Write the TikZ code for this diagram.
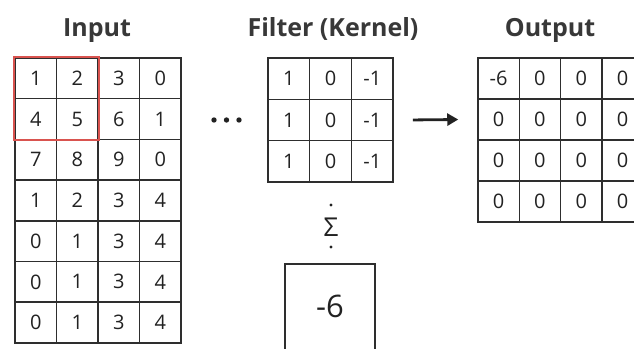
\documentclass[tikz,border=0pt]{standalone}
\usepackage{fontspec}
\setmainfont{Open Sans}
\usetikzlibrary{arrows.meta}
\definecolor{ink}{HTML}{222222}
\definecolor{gridline}{HTML}{2E2E2E}
\definecolor{winred}{HTML}{D9534F}
\tikzset{
  title/.style={font=\bfseries\fontsize{25}{27}\selectfont, text=ink!90, anchor=base},
  cell/.style={draw=gridline, line width=1.5pt, inner sep=0pt,
               font=\fontsize{20}{21}\selectfont, text=ink},
  window/.style={draw=winred, line width=1.6pt},
  flow/.style={draw=ink, line width=2.8pt, -{Triangle[length=11pt,width=12pt]}},
}
\begin{document}
\begin{tikzpicture}[x=1pt,y=-1pt]
\useasboundingbox (0,0) rectangle (634,348);
\fill[white] (0,0) rectangle (634,348);

% titles
\node[title] (tin)  at (97,36)  {Input};
\node[title] (tflt) at (333,36) {Filter (Kernel)};
\node[title] (tout) at (550,36) {Output};

% input matrix 7 x 4
\foreach \row [count=\r] in {{1,2,3,0},{4,5,6,1},{7,8,9,0},{1,2,3,4},{0,1,3,4},{0,1,3,4},{0,1,3,4}}{
  \foreach \v [count=\c] in \row{
    \node[cell, minimum width=41.5pt, minimum height=40.7pt]
      (in-\r-\c) at ({15+41.5*(\c-0.5)},{58+40.7*(\r-0.5)}) {\v};
  }
}
% current 2x2 window
\draw[window] (in-1-1.north west) rectangle (in-2-2.south east);

% ellipsis between input and filter
\foreach \x [count=\i] in {214,226.5,239}{
  \fill[ink] (\x,120) circle (2.7pt) coordinate (dot\i);
}

% filter 3 x 3
\foreach \r in {1,2,3}{
  \foreach \v [count=\c] in {1,0,-1}{
    \node[cell, minimum width=41.7pt, minimum height=41.3pt]
      (f-\r-\c) at ({268+41.7*(\c-0.5)},{58+41.3*(\r-0.5)}) {\v};
  }
}
\coordinate (fright) at (f-2-3.east);

% output matrix 4 x 4
\foreach \row [count=\r] in {{-6,0,0,0},{0,0,0,0},{0,0,0,0},{0,0,0,0}}{
  \foreach \v [count=\c] in \row{
    \node[cell, minimum width=41.3pt, minimum height=41pt]
      (o-\r-\c) at ({478+41.3*(\c-0.5)},{58+41*(\r-0.5)}) {\v};
  }
}

% arrow filter -> output
\draw[flow] ([xshift=19pt]fright) -- ([xshift=-19pt]o-2-1.west);

% summation sign with dots
\node[font=\fontsize{26}{26}\selectfont, text=ink] (sigma) at (331,227) {Σ};
\fill[ink] (331,205) circle (1.6pt);
\fill[ink] (331,247) circle (1.6pt);

% result box
\node[draw=gridline, line width=1.6pt, minimum width=90pt, minimum height=100pt,
      anchor=north] (sumbox) at (330,263) {};
\node[font=\fontsize{31}{32}\selectfont, text=ink] (sumval) at (330,306) {-6};
\end{tikzpicture}
\end{document}
